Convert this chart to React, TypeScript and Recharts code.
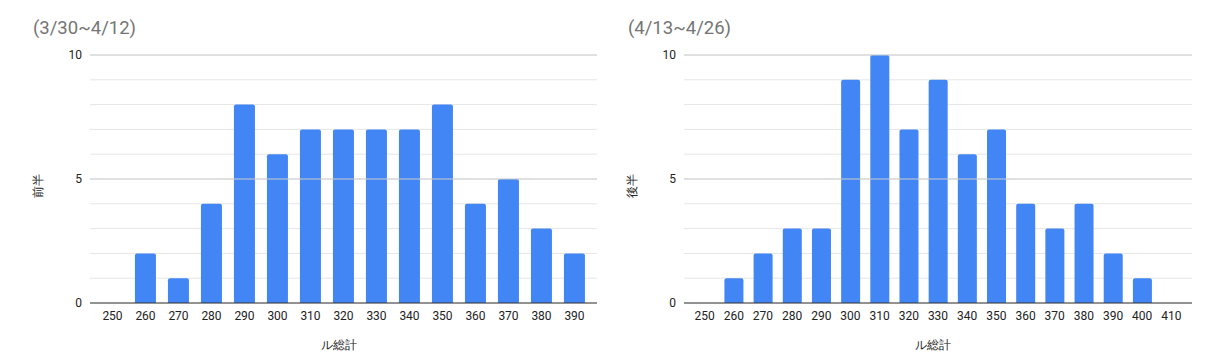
import { BarChart, Bar, XAxis, YAxis, CartesianGrid, ReferenceLine } from 'recharts'

const firstCategories = ['250', '260', '270', '280', '290', '300', '310', '320', '330', '340', '350', '360', '370', '380', '390']
const firstValues = [0, 2, 1, 4, 8, 6, 7, 7, 7, 7, 8, 4, 5, 3, 2]

const secondCategories = ['250', '260', '270', '280', '290', '300', '310', '320', '330', '340', '350', '360', '370', '380', '390', '400', '410']
const secondValues = [0, 1, 2, 3, 3, 9, 10, 7, 9, 6, 7, 4, 3, 4, 2, 1, 0]

const yTicks = [0, 1, 2, 3, 4, 5, 6, 7, 8, 9, 10]
const majorTicks = [5, 10]

const FONT = 'Roboto, "Liberation Sans", Arial, sans-serif'
const BLUE = '#4285f4'

type HistProps = {
    title: string
    yLabel: string
    xLabel: string
    categories: string[]
    values: number[]
    left: number
    w: number
    marginLeft: number
    marginRight: number
}

function Histogram(props: HistProps) {
    const data = props.categories.map((c, i) => ({ name: c, value: props.values[i] }))

    const yLabel = ({ viewBox }: any) => {
        const cx = viewBox.x + 8
        const cy = viewBox.y + viewBox.height / 2 + 7
        return (
            <text x={cx} y={cy} transform={`rotate(-90 ${cx} ${cy})`} textAnchor="middle"
                dominantBaseline="central" fontSize={12} fill="#222" fontFamily={FONT}>
                {props.yLabel}
            </text>
        )
    }

    const xLabel = ({ viewBox }: any) => (
        <text x={viewBox.x + viewBox.width / 2 - 5} y={349} textAnchor="middle"
            fontSize={12} fill="#222" fontFamily={FONT}>
            {props.xLabel}
        </text>
    )

    return (
        <div style={{ position: 'absolute', left: props.left, top: 0, width: props.w, height: 357 }}>
            <div style={{ position: 'absolute', left: 33, top: 19, fontSize: 18.5, lineHeight: '18px',
                color: '#757575', fontFamily: FONT, whiteSpace: 'nowrap' }}>
                {props.title}
            </div>
            <BarChart width={props.w} height={357} data={data} barCategoryGap="18%"
                margin={{ top: 55, right: props.marginRight, bottom: 0, left: props.marginLeft }}
                style={{ fontFamily: FONT }}>
                <CartesianGrid vertical={false} stroke="#e6e6e6" />
                {majorTicks.map((t) => (
                    <ReferenceLine key={t} y={t} stroke="#cccccc" />
                ))}
                <XAxis dataKey="name" interval={0} tickLine={false} height={54}
                    axisLine={{ stroke: '#333' }} padding={{ left: 6, right: 6 }}
                    tick={{ fontSize: 12, fill: '#222' }} label={xLabel} />
                <YAxis width={60} domain={[0, 10]} ticks={yTicks} interval={0}
                    axisLine={false} tickLine={false}
                    tickFormatter={(v: number) => (v % 5 === 0 ? String(v) : '')}
                    tick={{ fontSize: 12, fill: '#222' }} label={yLabel} />
                <Bar dataKey="value" fill={BLUE} radius={[2, 2, 0, 0]} isAnimationActive={false} />
            </BarChart>
        </div>
    )
}

export default function App() {
    return (
        <div style={{ position: 'absolute', left: 0, top: 0, width: 1215, height: 357, background: '#fff' }}>
            <Histogram title="(3/30~4/12)" yLabel="前半" xLabel="ル総計"
                categories={firstCategories} values={firstValues}
                left={0} w={605} marginLeft={30} marginRight={8} />
            <Histogram title="(4/13~4/26)" yLabel="後半" xLabel="ル総計"
                categories={secondCategories} values={secondValues}
                left={595} w={620} marginLeft={29} marginRight={23} />
        </div>
    )
}
